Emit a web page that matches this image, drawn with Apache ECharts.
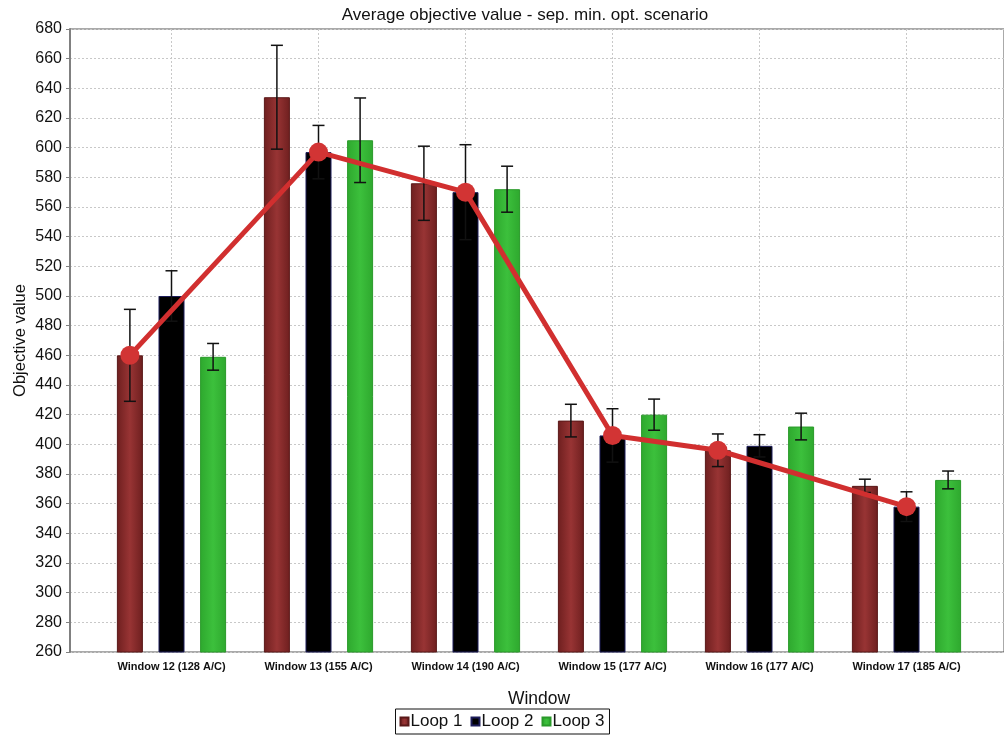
<!DOCTYPE html>
<html>
<head>
<meta charset="utf-8">
<script src="https://cdn.jsdelivr.net/npm/echarts@6/dist/echarts.min.js"></script>
<style>html,body{margin:0;padding:0;background:#fff}#c{width:1004px;height:736px}</style>
</head>
<body>
<div id="c"></div>
<script>
// ---- data ----
var categories = ['Window 12 (128 A/C)', 'Window 13 (155 A/C)', 'Window 14 (190 A/C)', 'Window 15 (177 A/C)', 'Window 16 (177 A/C)', 'Window 17 (185 A/C)'];
var seriesNames = ['Loop 1', 'Loop 2', 'Loop 3'];
var loop1 = [460, 634, 576, 416, 396, 372];
var loop1Err = [31, 35, 25, 11, 11, 4.5];
var loop2 = [500, 597, 570, 406, 399, 358];
var loop2Err = [17, 18, 32, 18, 7.5, 10];
var loop3 = [459, 605, 572, 420, 412, 376];
var loop3Err = [9, 28.5, 15.5, 10.5, 9, 6];
var bestLoop = [0, 1, 1, 1, 0, 1]; // which loop the red line passes through in each window
var yTicks = {min: 260, max: 680, interval: 20};

// ---- styling ----
var BAR_W = 26, BAR_GAP = 0.6;
var SPACING = BAR_W * (1 + BAR_GAP);
function grad(edge, mid) {
  return new echarts.graphic.LinearGradient(0, 0, 1, 0, [
    {offset: 0, color: edge}, {offset: 0.5, color: mid}, {offset: 1, color: edge}]);
}
var fills = [grad('#6e1f1f', '#983434'), '#000000', grad('#2ea82e', '#3cc03c')];
var borders = ['#5a1818', '#1c1c5a', '#2a9a2a'];

var loops = [loop1, loop2, loop3];
var errs = [loop1Err, loop2Err, loop3Err];

var chart = echarts.init(document.getElementById('c'), null, {renderer: 'canvas'});

var series = [];
loops.forEach(function (vals, k) {
  series.push({
    name: seriesNames[k], type: 'bar', xAxisIndex: 1, yAxisIndex: 1,
    barWidth: BAR_W, barGap: (BAR_GAP * 100) + '%',
    itemStyle: {color: fills[k], borderColor: borders[k], borderWidth: 1},
    data: vals, z: 2
  });
});
loops.forEach(function (vals, k) {
  series.push({
    type: 'custom', xAxisIndex: 1, yAxisIndex: 1, z: 5, silent: true,
    data: vals.map(function (v, i) { return [i, v - errs[k][i], v + errs[k][i]]; }),
    renderItem: function (params, api) {
      var off = (k - 1) * SPACING;
      var lo = api.coord([api.value(0), api.value(1)]);
      var hi = api.coord([api.value(0), api.value(2)]);
      var x = lo[0] + off, cap = 6;
      var st = {stroke: '#111', lineWidth: 1.5};
      return {type: 'group', children: [
        {type: 'line', shape: {x1: x, y1: lo[1], x2: x, y2: hi[1]}, style: st},
        {type: 'line', shape: {x1: x - cap, y1: lo[1], x2: x + cap, y2: lo[1]}, style: st},
        {type: 'line', shape: {x1: x - cap, y1: hi[1], x2: x + cap, y2: hi[1]}, style: st}
      ]};
    }
  });
});
var lineData = categories.map(function (c, i) { return [i, loops[bestLoop[i]][i], bestLoop[i]]; });
series.push({
  type: 'custom', xAxisIndex: 1, yAxisIndex: 1, z: 10, silent: true,
  data: lineData,
  renderItem: function (params, api) {
    if (params.dataIndex !== 0) return null;
    var pts = lineData.map(function (d) {
      var p = api.coord([d[0], d[1]]);
      return [p[0] + (d[2] - 1) * SPACING, p[1]];
    });
    var children = [{type: 'polyline', shape: {points: pts},
      style: {stroke: '#d12f2f', lineWidth: 5, fill: null, lineJoin: 'round'}}];
    pts.forEach(function (p) {
      children.push({type: 'circle', shape: {cx: p[0], cy: p[1], r: 9.5}, style: {fill: '#d23434'}});
    });
    return {type: 'group', children: children};
  }
});

var option = {
  animation: false,
  backgroundColor: '#fff',
  title: {
    text: 'Average objective value - sep. min. opt. scenario',
    left: 520, top: 2, textAlign: 'center',
    textStyle: {fontFamily: 'Liberation Sans', fontSize: 17, fontWeight: 'normal', color: '#111'}
  },
  legend: {
    data: seriesNames, left: 'center', top: 709,
    icon: 'rect', itemWidth: 8, itemHeight: 8, itemGap: 8,
    borderColor: '#111', borderWidth: 1, padding: [4, 5, 4, 4],
    textStyle: {fontFamily: 'Liberation Sans', fontSize: 17, color: '#111', padding: [0, 0, 0, -3]}
  },
  grid: [
    {left: 70, right: -5, top: 29, bottom: 84, show: true, borderColor: '#555', borderWidth: 1, backgroundColor: 'transparent'},
    {left: 98, right: 24, top: 29, bottom: 84}
  ],
  xAxis: [
    {gridIndex: 0, type: 'value', min: 0, max: 1, show: false},
    {gridIndex: 1, type: 'category', data: categories, boundaryGap: true,
      axisLine: {show: false}, axisTick: {show: false},
      splitLine: {show: true, alignWithLabel: true, lineStyle: {color: '#c8c8c8', type: [2, 2], width: 1}},
      axisLabel: {fontFamily: 'Liberation Sans', fontSize: 11, fontWeight: 'bold', color: '#111', margin: 9, interval: 0},
      name: 'Window', nameLocation: 'middle', nameGap: 38,
      nameTextStyle: {fontFamily: 'Liberation Sans', fontSize: 17.5, color: '#111'}}
  ],
  yAxis: [
    {gridIndex: 0, type: 'value', min: yTicks.min, max: yTicks.max, interval: yTicks.interval,
      axisLine: {show: true, lineStyle: {color: '#808080', width: 2}},
      axisTick: {show: true, length: 4, lineStyle: {color: '#808080'}},
      splitLine: {show: true, lineStyle: {color: '#c8c8c8', type: [2, 2], width: 1}},
      axisLabel: {fontFamily: 'Liberation Sans', fontSize: 16, color: '#111', margin: 8},
      name: 'Objective value', nameLocation: 'middle', nameGap: 41, nameRotate: 90, nameMoveOverlap: false,
      nameTextStyle: {fontFamily: 'Liberation Sans', fontSize: 16.5, color: '#111'}},
    {gridIndex: 1, type: 'value', min: yTicks.min, max: yTicks.max, interval: yTicks.interval, show: false}
  ],
  series: series
};
chart.setOption(option);
</script>
</body>
</html>
